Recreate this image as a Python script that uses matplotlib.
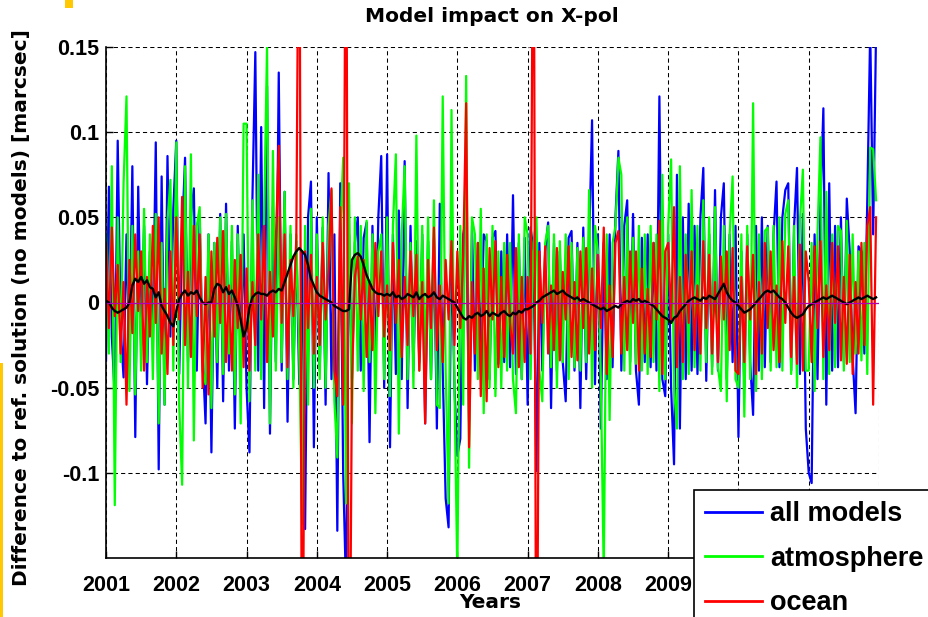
import numpy as np
import matplotlib
matplotlib.use('Agg')
import matplotlib.pyplot as plt
from matplotlib.patches import Rectangle

# values in micro-arcsec (1e-3 marcsec), 24 samples per year, 2001 - 2011
allModels = [
	-34, 68, -20, -56, 95, -15, -44, 40, -30, 80, -79, 68, -25, 45, -48, 30, -20, 94, -98, 74, -60, 86, -20, 55,
	95, -42, 40, 85, -35, 50, 67, -40, 50, -30, -71, 40, -88, 35, -50, 52, -58, 58, -40, 36, -74, 45, -30, 40,
	-50, -88, 60, 147, -40, 103, -62, 127, -77, 56, -35, 135, -40, 65, -70, 40, -45, 36, -48, 30, -133, 50, 71, -85,
	50, -40, 44, -60, 76, -45, 40, -134, 70, -100, -170, 40, -45, 35, 50, -40, 38, 47, -82, 45, -38, 50, 86, -50,
	87, -85, 40, -42, 54, -45, 83, -62, 45, -40, 36, -35, 40, -71, 36, -45, 38, -74, 58, -40, -115, -132, 40, -50,
	-90, -80, 40, 50, -70, 45, -40, 35, -30, 40, 36, -45, 38, 42, -36, 30, -35, 40, -38, 63, -42, 35, -45, 38,
	-60, 44, 30, -99, 35, -40, 30, 47, -62, 35, -40, 30, -35, -58, 38, 42, -40, 35, -62, 44, -45, 35, 107, -48,
	40, -74, 35, -45, 40, -38, 50, 89, -40, 45, 60, -35, 52, -40, -60, 38, -35, 40, -38, 35, -40, 121, -45, -55,
	40, -50, -95, 75, -74, 50, -45, 58, -40, 45, -42, 50, 79, -46, 40, -38, 66, -40, 50, 70, -45, 40, -35, 45,
	-79, 30, -50, 40, -35, -66, 45, -40, 50, -38, 45, -35, 40, 71, -38, 50, 66, 70, -40, 45, 79, -42, 52, -74,
	-100, -106, 40, -45, 56, 114, -60, 70, -40, 45, -38, 50, -35, 61, 30, -32, -65, 33, 30, -30, 60, 160, 40, 160]

atmosphere = [
	40, -30, 80, -119, 50, -35, 70, 121, -52, 45, -54, 30, -40, 55, -35, 40, -45, 52, -71, 35, -60, 48, 72, -40,
	94, -60, -107, 80, -50, 87, -81, 45, 56, -40, -48, 40, -62, 35, -35, 50, -42, 52, -30, 45, -54, 40, -71, 105,
	105, -58, 60, -40, 75, -45, 50, 150, -71, 89, -40, 50, -35, 65, -45, 45, -50, 40, -30, -130, 45, -60, 55, -50,
	40, -45, 50, -50, 45, 66, -58, -91, 40, 85, -118, 70, -71, 50, -40, 45, -52, 48, -35, 40, -65, 30, 40, -45,
	50, -55, 45, 87, -77, 40, 80, -45, 35, -50, 98, -40, 45, -38, 50, -45, 60, -60, -62, 121, -40, -118, 113, -50,
	-160, 45, -60, 133, -97, 50, 40, -45, 55, -65, 40, -50, 45, -55, 30, -50, 35, -40, 35, -45, -65, 40, -45, 50,
	40, -45, 35, 50, -40, -58, 35, 45, -38, 40, -50, 36, -35, 40, -45, 35, -38, 32, -40, 38, -35, 66, -50, 45,
	30, -45, -160, 40, -69, 35, 45, 85, 75, -40, 50, -42, 38, -36, 45, -40, 40, -42, 45, -35, 40, -52, 75, -45,
	45, 84, -50, -74, 80, -45, 40, -42, 66, -38, 45, -40, 60, -35, 50, -42, 56, -38, -52, 45, -58, 40, 74, -45,
	-50, 40, -67, 45, -45, 117, -52, 40, -45, 42, 44, -40, 45, -38, 50, -40, 52, 60, -42, 45, -50, 48, 78, -40,
	-40, 35, -52, 40, 97, -45, 65, -42, 40, -38, 45, 42, -40, 48, -35, 40, -30, 30, -34, 35, -42, 91, 90, 60]

ocean = [
	35, -15, 44, -8, 22, -30, 12, -60, 25, -18, 40, -5, 30, -40, 15, -20, 45, -12, 50, -30, 8, -42, 30, -25,
	50, -10, 62, -25, 18, -32, 45, -8, 40, -50, 15, -54, 30, -20, 38, -12, 42, -35, 10, -40, 25, -15, 28, -38,
	20, -40, 12, -25, 40, -10, 45, -35, 18, -20, 35, 92, -12, 40, -38, 25, -8, 38, 300, -300, 30, -15, 28, -30,
	15, -25, 35, -10, 20, 67, -40, -55, 56, -60, 300, -300, -45, 15, 27, -10, 25, -32, 12, -28, 35, -8, 30, -20,
	10, -28, 35, -12, 25, -32, 15, -25, 30, -8, 28, -40, 12, -71, 25, -15, 44, -28, 10, -35, 25, -10, 36, -25,
	30, -15, 28, 117, -85, 12, -30, 35, -55, 20, -58, 32, -10, 36, -38, 15, -32, 28, -12, -30, 32, -38, 15, -35,
	15, -30, 300, -300, 30, -12, 33, -30, 10, -28, 32, -34, 18, -10, 33, -32, 12, -34, 30, -15, 32, -30, 20, -28,
	28, -15, 44, -42, 10, -32, 35, 42, -30, 15, -28, 30, -12, 30, -40, 20, -30, 8, -32, 35, -10, 48, -42, 30,
	35, -10, 56, -38, 15, -35, 28, -12, 30, -28, 10, -30, 36, -15, 28, -30, 12, -35, 27, -10, 30, -28, 32, -40,
	-42, 15, -35, 33, -10, 28, -42, 12, -30, 35, -15, 30, -28, 10, -35, 36, -12, 33, -32, 15, -36, 34, -40, 30,
	12, -35, 33, -15, 36, -32, 10, -28, 35, -12, 33, -34, 15, -36, 28, -42, 12, -30, 35, -25, 45, 56, -60, 50]

smoothed = [
	1, 0, -3, -5, -6, -5, -4, -3, 0, 10, 14, 12, 15, 11, 13, 9, 8, 3, 6, -2, -5, -8, -12, -14,
	-5, 2, 5, 7, 4, 6, 5, 7, 3, 0, -1, 0, 0, 8, 11, 10, 6, 9, 5, 7, 3, -2, -10, -20,
	-15, -3, 3, 5, 6, 5, 5, 4, 6, 7, 6, 8, 7, 12, 17, 22, 27, 30, 32, 30, 28, 22, 14, 10,
	6, 4, 3, 2, 1, 0, -2, -3, -4, -5, -5, -4, 25, 28, 29, 27, 22, 16, 12, 8, 6, 5, 5, 4,
	5, 4, 6, 3, 4, 2, 3, 5, 4, 3, 6, 2, 4, 5, 3, 4, 6, 3, 2, 4, 3, 2, 1, 0,
	-3, -6, -9, -10, -8, -9, -7, -6, -8, -7, -5, -8, -6, -7, -8, -6, -5, -7, -8, -6, -7, -5, -6, -4,
	-4, -3, -2, 0, 1, 3, 4, 5, 6, 7, 5, 6, 7, 5, 4, 3, 2, 3, 1, 2, 1, 0, -1, -2,
	-3, -4, -3, -5, -4, -3, -2, -3, -1, 0, 1, 0, 2, 1, 2, 0, 1, 0, -1, -2, -4, -6, -8, -9,
	-10, -12, -9, -8, -5, -3, -1, 1, 2, 3, 2, 1, 3, 2, 4, 3, 2, 5, 8, 11, 6, 3, 1, 0,
	-2, -4, -6, -5, -4, -2, 0, 2, 4, 6, 7, 6, 7, 5, 3, 2, 0, -3, -6, -8, -9, -8, -7, -4,
	-2, -1, 0, 1, 2, 3, 2, 3, 4, 3, 2, 1, 0, -1, 0, 1, 2, 3, 2, 3, 4, 3, 2, 3]

startYear = 2001
perYear = 24
years = list(range(2001, 2013))
# 2010-2012 labels sit under the legend box in the original
yearLabels = ['2001', '2002', '2003', '2004', '2005', '2006', '2007', '2008', '2009', '', '', '']
yticks = [-0.1, -0.05, 0, 0.05, 0.1, 0.15]
ylabels = ['-0.1', '-0.05', '0', '0.05', '0.1', '0.15']

t = startYear + np.arange(len(allModels)) / perYear

fig = plt.figure(figsize=(9.29, 6.17), dpi=100)
ax = fig.add_axes([106/929., 1 - 558/617., (879-106)/929., (558-47)/617.])

hb, = ax.plot(t, np.array(allModels)/1000., color=(0, 0, 1), lw=1.6)
hg, = ax.plot(t, np.array(atmosphere)/1000., color=(0, 1, 0), lw=1.6)
hr, = ax.plot(t, np.array(ocean)/1000., color=(1, 0, 0), lw=1.6)
ax.plot(t, np.array(smoothed)/1000., color='k', lw=1.7)
ax.axhline(0, color='#b000b0', lw=0.9)

ax.set_xlim(2001, 2012)
ax.set_ylim(-0.15, 0.15)
ax.set_xticks(years)
ax.set_xticklabels(yearLabels)
ax.set_yticks(yticks)
ax.set_yticklabels(ylabels)
ax.grid(True, color='k', lw=0.75, linestyle=(0, (4, 3)))
ax.set_axisbelow(True)
for s in ['top', 'right']:
	ax.spines[s].set_visible(False)
for s in ['left', 'bottom']:
	ax.spines[s].set_linewidth(1.2)
ax.tick_params(direction='in', length=5, width=1)
ax.tick_params(axis='x', pad=12)
ax.tick_params(axis='y', pad=5)
for lab in ax.get_xticklabels() + ax.get_yticklabels():
	lab.set_fontfamily('Liberation Sans')
	lab.set_fontweight('bold')
	lab.set_fontsize(15.5)

fig.text(492/929., 1 - 16/617., 'Model impact on X-pol', ha='center', va='center',
	fontsize=14.5, fontweight='bold', family='DejaVu Sans')
fig.text(490/929., 1 - 603/617., 'Years', ha='center', va='center',
	fontsize=14.5, fontweight='bold', family='DejaVu Sans')
fig.text(22/929., 1 - 308/617., 'Difference to ref. solution (no models) [marcsec]', ha='center',
	va='center', rotation=90, fontsize=14.5, fontweight='bold', family='DejaVu Sans')

leg = fig.legend([hb, hg, hr], ['all models', 'atmosphere', 'ocean'], loc='upper left',
	bbox_to_anchor=(694/929., 1 - 490/617.), borderaxespad=0, fancybox=False,
	framealpha=1, edgecolor='k', handlelength=2.1, handletextpad=0.3, labelspacing=0.68,
	borderpad=0.42, prop={'family': 'Liberation Sans', 'weight': 'bold', 'size': 19.5})
leg.get_frame().set_linewidth(1.2)
for h in leg.get_lines():
	h.set_linewidth(2)

# yellow bits at the edge of the original screenshot
fig.patches.append(Rectangle((65/929., 1 - 8/617.), 8/929., 8/617., transform=fig.transFigure,
	color='#ffc800', lw=0))
fig.patches.append(Rectangle((0, 0), 3/929., 1 - 363/617., transform=fig.transFigure,
	color='#ffc800', lw=0))

plt.savefig('out.png', dpi=100)
